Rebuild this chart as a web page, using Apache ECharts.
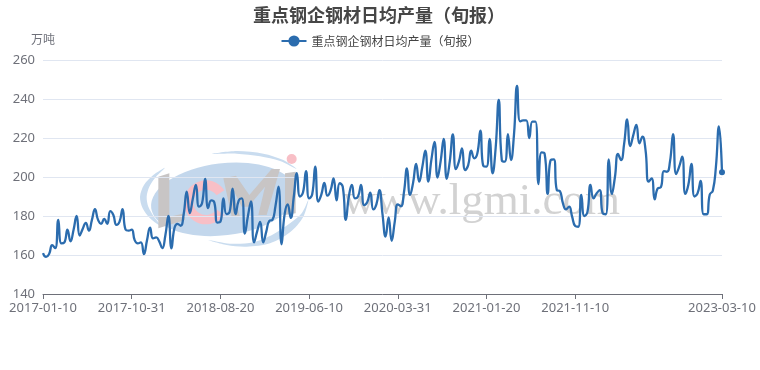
<!DOCTYPE html>
<html><head><meta charset="utf-8">
<style>html,body{margin:0;padding:0;background:#fff}#c{width:760px;height:370px}</style>
<script src="https://cdn.jsdelivr.net/npm/echarts@6/dist/echarts.min.js"></script>
</head><body><div id="c"></div>
<script>
const seriesName = '重点钢企钢材日均产量（旬报）';
const unitName = '万吨';
const yTicks = [140, 260, 20];
const labelledIndex = [0, 29, 58, 87, 116, 145, 174, 222];
const output2017to2018 = [161,159,160.5,165,163.5,178,166,166.5,173,167,173,180,170,173.5,176.5,172.5,178,183.5,178,176,178.5,176,182.5,180.5,175.5,177,183.5,173,172.5,173,167.5,166,166.5,160.5,167.5,174,168.5,169,167,163.5,170,180,163.4,174,176,175,181,192.5,181.5,189,196,184.8,186.5,199,184,188,187,176.6,177,189,181,182,194,181,188,189,171,180,187.5,166.5,172,177,166.5,172,177.5];
const output2019to2020 = [178,185,195,165.5,181,186,179,190,202,190,192,203,189,191,205.3,187.4,191,197,190.4,193,199.3,188,196.8,195,178,190,196,189,190,196,185.6,187,192,183.4,186,193.3,181,169.4,179.3,167.3,177,186,185,192,204.4,190.8,197,206.7,197.6,205];
const output2021to2023 = [213.5,197.6,209,218,199.7,208,219.5,199,208,221.9,204,208,214.7,203.6,206,213.5,209.6,212,223.8,205.6,205.3,219.5,201.9,215,239.5,208.7,207.9,222,208.7,222,246.7,228.5,229,229,220,228.4,228.4,196.4,212.6,212,191.3,208.7,209,193.3,192.8,186.5,183.4,184.8,179.7,174.9,174.5,190.8,180,182,195.9,189,191.6,193.3,181.4,180.9,209,191.3,200,211.8,208.7,217,229.6,215.9,221.5,226.7,217.3,220.7,213.8,197.6,199.3,188.5,194.2,194.7,203,202.7,208,222,201.5,205.3,210.4,191.3,196,206.7,190,191.6,198,180.9,180.9,191,193,205,226,202.4];
const outputValues = output2017to2018.concat(output2019to2020, output2021to2023);
const categories = [];
for (let y = 2017, m = 1; categories.length < outputValues.length; m === 12 ? (y++, m = 1) : m++) {
  const mm = String(m).padStart(2, '0');
  const last = new Date(Date.UTC(y, m, 0)).getUTCDate();
  [10, 20, last].forEach(d => categories.push(y + '-' + mm + '-' + d));
}
categories.length = outputValues.length;

const chart = echarts.init(document.getElementById('c'), null, {renderer: 'canvas'});
const font = '"Noto Sans CJK SC","Noto Sans",sans-serif';
const tickFont = '"Noto Sans",sans-serif';
const shown = i => labelledIndex.includes(i);
const BLUE = '#c3d7ec', RING = '#c9dcef', GREY = '#c8c5c5', PINK = '#f8bfc6';
chart.setOption({
  animation: false,
  textStyle: {fontFamily: font},
  title: {text: seriesName, left: 374, textAlign: 'center', top: 1, textStyle: {fontSize: 18, fontWeight: 'bold', color: '#464646', fontFamily: font}},
  legend: {top: 30, left: 'center', itemWidth: 25, itemHeight: 14, itemGap: 5, textStyle: {fontSize: 12, color: '#444', fontFamily: font}},
  grid: {left: 43, right: 38, top: 60, bottom: 76},
  xAxis: {
    type: 'category', data: categories, boundaryGap: false,
    axisLine: {lineStyle: {color: '#6e7079'}},
    axisTick: {alignWithLabel: true, interval: shown, lineStyle: {color: '#6e7079'}},
    axisLabel: {interval: shown, color: '#6e7079', fontSize: 13, fontFamily: tickFont, margin: 8, showMinLabel: true, showMaxLabel: true}
  },
  yAxis: {
    type: 'value', min: yTicks[0], max: yTicks[1], interval: yTicks[2], name: unitName,
    nameLocation: 'end', nameGap: 15, nameTextStyle: {color: '#6e7079', fontSize: 12, align: 'center', fontFamily: font},
    axisLine: {show: false}, axisTick: {show: false},
    axisLabel: {color: '#6e7079', fontSize: 13, fontFamily: tickFont, margin: 8},
    splitLine: {lineStyle: {color: '#e0e6f1'}}
  },
  graphic: {elements: [{
    type: 'group', x: 130, y: 145, scaleX: 1 / 3, scaleY: 1 / 3, silent: true, z: -5,
    children: [
      {type: 'ellipse', z: -5, shape: {cx: 280, cy: 163, rx: 218, ry: 108}, rotation: 0.12, originX: 280, originY: 163, style: {fill: BLUE}},
      {type: 'polygon', z: -5, shape: {smooth: 0.3, points: [[105,68],[70,90],[42,120],[30,155],[38,190],[60,220],[95,245],[72,215],[55,185],[50,155],[58,125],[78,95]]}, style: {fill: RING}},
      {type: 'polygon', z: -5, shape: {smooth: 0.3, points: [[245,27],[320,18],[400,26],[460,45],[500,72],[450,48],[390,34],[320,26]]}, style: {fill: RING}},
      {type: 'polygon', z: -5, shape: {smooth: 0.3, points: [[535,165],[520,215],[480,262],[420,295],[350,305],[290,300],[235,285],[300,296],[370,292],[430,268],[480,235],[515,205]]}, style: {fill: RING}},
      {type: 'polygon', z: -4, shape: {points: [[85,95],[118,85],[118,215],[165,205],[165,225],[85,250]]}, style: {fill: GREY}},
      {type: 'arc', z: -4, shape: {cx: 228, cy: 172, r: 52, startAngle: 0.6, endAngle: 5.7, clockwise: true}, style: {fill: 'none', stroke: PINK, lineWidth: 28}},
      {type: 'polygon', z: -4, shape: {points: [[280,100],[318,92],[358,150],[425,72],[450,72],[410,210],[385,210],[405,125],[355,185],[335,185],[305,125],[330,215],[305,215]]}, style: {fill: GREY}},
      {type: 'polygon', z: -4, shape: {points: [[465,85],[497,80],[497,205],[465,210]]}, style: {fill: GREY}},
      {type: 'circle', z: -4, shape: {cx: 485, cy: 42, r: 15}, style: {fill: PINK}}
    ]
  }, {type: 'text', z: -3, silent: true, style: {x: 343, y: 180, text: 'www.lgmi.com', font: '45px "Liberation Serif"', fill: '#d2d2d2'}}]},
  series: [{
    name: seriesName, type: 'line', smooth: true,
    data: outputValues.map((v, i) => i === outputValues.length - 1 ? v : {value: v, symbol: 'none'}),
    showSymbol: true, showAllSymbol: true, symbol: 'circle', symbolSize: 6,
    lineStyle: {color: '#2b6cae', width: 2.3}, itemStyle: {color: '#2b6cae'}
  }]
});
</script></body></html>
